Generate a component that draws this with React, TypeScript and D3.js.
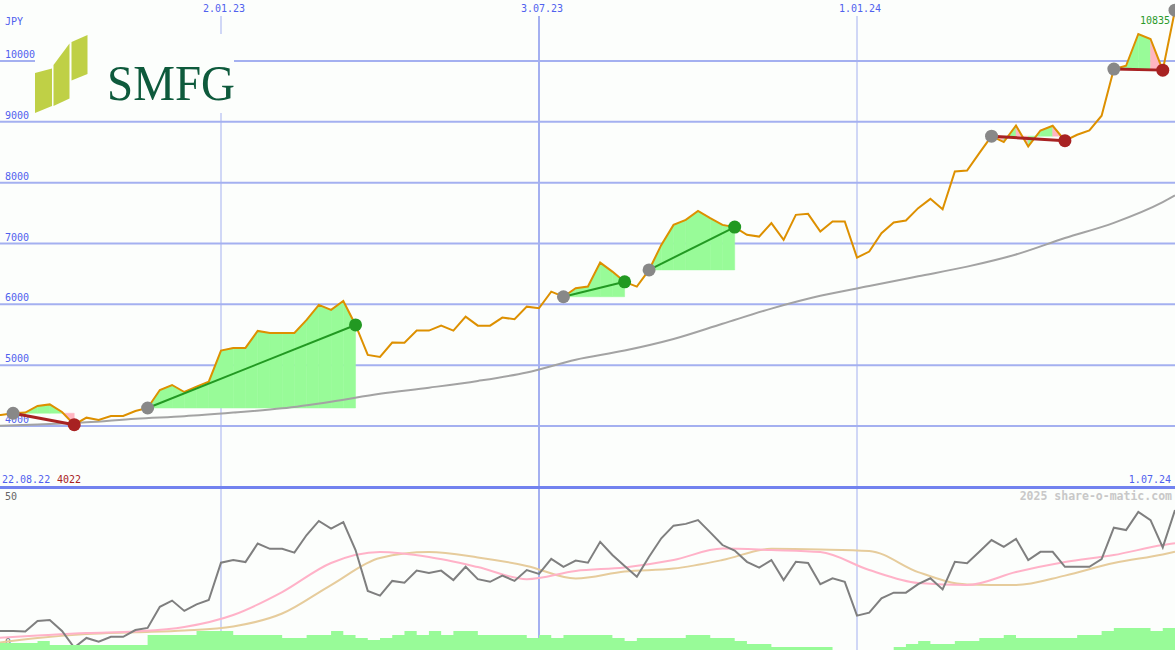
import React from 'react';
import * as d3 from 'd3';

const W = 1175;
const H = 650;

// weekly closes, Monday dates from 22.08.22 to 1.07.24
const WEEKS = d3.timeMonday.range(new Date(2022, 7, 22), new Date(2024, 6, 2));

const PRICE = [
  4170, 4181, 4210, 4220, 4330, 4355, 4230, 4022, 4137, 4100,
  4164, 4164, 4247, 4296, 4592, 4674, 4559, 4647, 4729, 5239,
  5283, 5283, 5563, 5530, 5530, 5530, 5744, 5990, 5908, 6056,
  5661, 5168, 5135, 5371, 5370, 5568, 5568, 5650, 5568, 5798,
  5650, 5650, 5782, 5755, 5962, 5935, 6209, 6125, 6265, 6292,
  6686, 6538, 6370, 6292, 6566, 6977, 7306, 7389, 7537, 7417,
  7306, 7270, 7142, 7114, 7334, 7060, 7471, 7488, 7197, 7361,
  7361, 6768, 6867, 7170, 7345, 7378, 7581, 7734, 7564, 8184,
  8200, 8486, 8765, 8667, 8940, 8595, 8858, 8935, 8690, 8787,
  8858, 9100, 9868, 9922, 10444, 10362, 9850, 10835,
];

// long moving average, sampled every 4 weeks
const MA_WEEK_IDX = [0, 4, 8, 12, 16, 20, 24, 28, 32, 36, 40, 44, 48, 52, 56, 60, 64, 68, 72, 76, 80, 84, 88, 92, 96, 97];
const MA_LONG = [
  4000, 4025, 4060, 4120, 4160, 4220, 4290, 4400, 4530, 4630, 4740, 4880, 5090,
  5240, 5430, 5680, 5930, 6140, 6300, 6460, 6620, 6820, 7090, 7340, 7680, 7790,
];

// lower panel oscillator
const OSC = [
  6.5, 6.5, 6.5, 6.3, 9.9, 10.2, 6.5, 0.8, 4.1, 2.8,
  4.5, 4.5, 6.8, 7.5, 14.7, 16.8, 13.3, 15.5, 17.0, 29.7,
  30.6, 29.9, 36.2, 34.4, 34.4, 33.1, 39.1, 43.9, 41.3, 43.5,
  34.0, 20.1, 18.5, 23.5, 22.9, 27.0, 26.2, 27.0, 23.8, 28.3,
  24.1, 23.2, 25.3, 23.5, 27.2, 25.9, 31.0, 28.3, 30.4, 29.7,
  36.8, 32.3, 28.6, 24.9, 31.7, 38.0, 42.3, 42.9, 44.2, 40.0,
  35.7, 33.8, 30.0, 28.0, 30.6, 23.8, 30.0, 29.6, 22.4, 24.4,
  23.2, 11.7, 12.7, 17.6, 19.5, 19.5, 22.4, 24.4, 20.6, 30.0,
  29.5, 33.4, 37.4, 35.1, 37.8, 30.6, 33.4, 33.4, 28.3, 28.3,
  28.3, 30.9, 41.6, 40.8, 47.0, 44.2, 34.9, 47.6,
];
const OSC_FAST = [
  3.9, 4.9, 5.8, 6.3, 7.8, 11.9, 19.7, 29.6, 33.3, 31.6, 28.2, 24.1, 26.9,
  28.1, 30.6, 34.5, 34.0, 33.3, 27.2, 22.8, 22.1, 26.5, 29.9, 32.3, 35.7, 36.3,
];
const OSC_SLOW = [
  2.0, 4.1, 5.4, 6.0, 6.6, 8.0, 12.4, 22.1, 31.3, 33.3, 31.5, 28.6, 24.3,
  26.7, 27.7, 30.6, 34.4, 34.2, 33.7, 26.5, 22.3, 22.1, 25.3, 29.6, 32.5, 33.4,
];

// volume (relative units)
const VOLUME = [
  7, 7, 7, 7, 7, 9, 5, 5, 5, 5,
  5, 5, 5, 5, 15, 15, 15, 15, 19, 19,
  19, 15, 15, 15, 15, 12, 12, 15, 15, 19,
  15, 12, 10, 12, 15, 19, 15, 19, 15, 19,
  19, 15, 15, 15, 15, 12, 15, 12, 15, 15,
  15, 15, 12, 9, 12, 12, 12, 12, 15, 15,
  12, 12, 9, 6, 6, 3, 3, 3, 3, 3,
  0, 0, 0, 0, 0, 3, 6, 9, 6, 6,
  9, 9, 12, 12, 15, 12, 12, 12, 12, 12,
  15, 15, 19, 22, 22, 22, 19, 22,
];

// signals: start week index -> end week index
const SIGNALS = [
  { s: 2, e: 7 },
  { s: 13, e: 30 },
  { s: 47, e: 52 },
  { s: 54, e: 61 },
  { s: 82, e: 88 },
  { s: 92, e: 96 },
];
const OPEN_SIGNAL = 97;

const PRICE_TICKS = [4000, 5000, 6000, 7000, 8000, 9000, 10000];
const DATE_TICKS = [
  { d: new Date(2023, 0, 2), label: '2.01.23', w: 1 },
  { d: new Date(2023, 6, 3), label: '3.07.23', w: 2 },
  { d: new Date(2024, 0, 1), label: '1.01.24', w: 1 },
];

const GRID = '#a4b0f0';
const BLUE_TXT = '#5061ee';
const MONO = '"DejaVu Sans Mono", monospace';

const App: React.FC = () => {
  const x = d3.scaleTime()
    .domain([new Date(2023, 0, 2), new Date(2024, 0, 1)])
    .range([221, 857]);
  const y = d3.scaleLinear().domain([4000, 10000]).range([426, 61]);
  const yOsc = d3.scaleLinear().domain([0, 50]).range([650, 503]);
  const yVol = d3.scaleLinear().domain([0, 30]).range([650, 620]);

  const px = (i: number) => x(WEEKS[i]);

  const priceLine = d3.line<number>()
    .x((_, i) => px(i))
    .y(d => y(d));

  const maLine = d3.line<number>()
    .x((_, k) => px(MA_WEEK_IDX[k]))
    .y(d => y(d))
    .curve(d3.curveMonotoneX);

  const oscLine = d3.line<number>()
    .x((_, i) => px(i))
    .y(d => yOsc(d));

  const oscMaLine = d3.line<number>()
    .x((_, k) => px(MA_WEEK_IDX[k]))
    .y(d => yOsc(d))
    .curve(d3.curveMonotoneX);

  const volArea = d3.area<number>()
    .x((_, i) => px(i))
    .y0(650)
    .y1(d => yVol(d))
    .curve(d3.curveStepBefore);

  const lowIdx = d3.minIndex(PRICE);
  const last = PRICE[PRICE.length - 1];

  // fill polygons for every signal segment
  const fills: { d: string; c: string }[] = [];
  SIGNALS.forEach(({ s, e }) => {
    const level = PRICE[s];
    const win = PRICE[e] > PRICE[s];
    for (let k = s; k < e; k++) {
      const seg = d3.area<number>()
        .x(i => px(i))
        .y0(y(level))
        .y1(i => y(PRICE[i]))([k, k + 1]) as string;
      const c = win || PRICE[k + 1] >= level ? '#98fb98' : '#ffb6c1';
      fills.push({ d: seg, c });
    }
  });

  return (
    <svg width={W} height={H} style={{ position: 'absolute', left: 0, top: 0, background: '#fcfefc' }}>
      {/* grid */}
      {PRICE_TICKS.map(v => (
        <line key={v} x1={0} x2={W} y1={y(v)} y2={y(v)} stroke={GRID} strokeWidth={2} />
      ))}
      {DATE_TICKS.map(t => (
        <line key={t.label} x1={x(t.d)} x2={x(t.d)} y1={16} y2={H} stroke={GRID} strokeWidth={t.w} />
      ))}
      <line x1={0} x2={W} y1={487.5} y2={487.5} stroke="#7282ef" strokeWidth={3} />

      {/* logo */}
      <g>
        <rect x={35} y={34} width={199} height={79} fill="#fcfefc" />
        <polygon points="35,73 52,68.5 52,106 35,113" fill="#bfd046" />
        <polygon points="53.5,65 69.5,43.5 69.5,98.5 53.5,106" fill="#bfd046" />
        <polygon points="71.5,42 87.5,35 87.5,74 71.5,80.5" fill="#bfd046" />
        <text x={107} y={100} fontFamily='"Liberation Serif", serif' fontSize={50} fill="#0e5a3c"
          textLength={128} lengthAdjust="spacingAndGlyphs">SMFG</text>
      </g>

      {/* labels */}
      <g fontFamily={MONO} fontSize={10} fill={BLUE_TXT}>
        <text x={5} y={25}>JPY</text>
        {PRICE_TICKS.map(v => (
          <text key={v} x={5} y={y(v) - 3}>{v}</text>
        ))}
        {DATE_TICKS.map(t => (
          <text key={t.label} x={x(t.d) + 3} y={12} textAnchor="middle">{t.label}</text>
        ))}
        <text x={2} y={483}>22.08.22</text>
        <text x={57} y={483} fill="#a82222">{PRICE[lowIdx]}</text>
        <text x={1171} y={483} textAnchor="end">1.07.24</text>
        <text x={1170} y={24} textAnchor="end" fill="#2a9a2a">{last}</text>
        <text x={5} y={500} fill="#666">50</text>
        <text x={5} y={646} fill="#666">0</text>
      </g>
      <text x={1172} y={500} textAnchor="end" fontFamily={MONO} fontSize={11.5} fontWeight="bold" fill="#c8c8c8">
        2025 share-o-matic.com
      </text>

      {/* signal fills */}
      {fills.map((f, i) => (
        <path key={i} d={f.d} fill={f.c} stroke={f.c} strokeWidth={0.5} />
      ))}

      {/* long moving average */}
      <path d={maLine(MA_LONG) as string} fill="none" stroke="#a3a3a3" strokeWidth={2} />

      {/* price */}
      <path d={priceLine(PRICE) as string} fill="none" stroke="#dd9000" strokeWidth={2} />

      {/* signal lines + markers */}
      {SIGNALS.map(({ s, e }) => {
        const win = PRICE[e] > PRICE[s];
        const col = win ? '#229922' : '#a82222';
        return (
          <g key={s}>
            <line x1={px(s)} y1={y(PRICE[s])} x2={px(e)} y2={y(PRICE[e])} stroke={col} strokeWidth={win ? 2 : 3} />
            <circle cx={px(s)} cy={y(PRICE[s])} r={6.5} fill="#888" />
            <circle cx={px(e)} cy={y(PRICE[e])} r={6.5} fill={col} />
          </g>
        );
      })}
      <circle cx={px(OPEN_SIGNAL)} cy={y(PRICE[OPEN_SIGNAL])} r={6.5} fill="#888" />

      {/* lower panel */}
      <path d={oscMaLine(OSC_SLOW) as string} fill="none" stroke="#e6cc9c" strokeWidth={2} />
      <path d={oscMaLine(OSC_FAST) as string} fill="none" stroke="#ffb2c8" strokeWidth={2} />
      <path d={oscLine(OSC) as string} fill="none" stroke="#7f7f7f" strokeWidth={2} />
      <path d={volArea(VOLUME) as string} fill="#98fb98" />
    </svg>
  );
};

export default App;
